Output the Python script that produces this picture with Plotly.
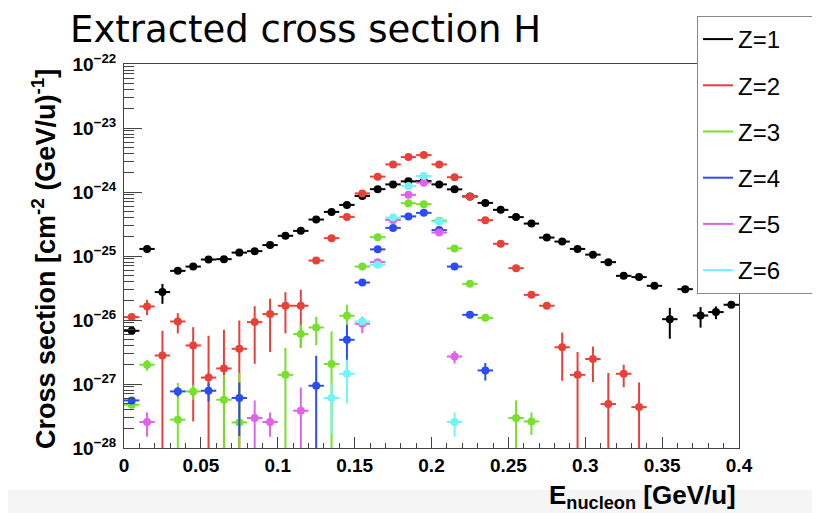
import plotly.graph_objects as go

# ---------------- data ----------------
z1_x = [0.005, 0.015, 0.025, 0.035, 0.045, 0.055, 0.065, 0.075, 0.085, 0.095,
        0.105, 0.115, 0.125, 0.135, 0.145, 0.155, 0.165, 0.175, 0.185, 0.195,
        0.205, 0.215, 0.225, 0.235, 0.245, 0.255, 0.265, 0.275, 0.285, 0.295,
        0.305, 0.315, 0.325, 0.335, 0.345, 0.355, 0.365, 0.375, 0.385, 0.395]
z1_y = [6.78e-27, 1.29e-25, 2.73e-26, 5.86e-26, 6.84e-26, 8.81e-26, 8.93e-26, 1.13e-25, 1.19e-25, 1.48e-25,
        2.07e-25, 2.47e-25, 3.71e-25, 4.89e-25, 6.29e-25, 8.69e-25, 1.107e-24, 1.315e-24, 1.466e-24, 1.48e-24,
        1.315e-24, 1.10e-24, 8.53e-25, 6.76e-25, 5.26e-25, 4.05e-25, 3.21e-25, 1.94e-25, 1.68e-25, 1.29e-25,
        1.05e-25, 8.02e-26, 4.90e-26, 4.68e-26, 3.42e-26, 1.03e-26, 3.03e-26, 1.175e-26, 1.33e-26, 1.73e-26]
z1_err = [0.4e-27, 0.4e-26, 0.94e-26, 0.2e-26, 0.2e-26, 0.2e-26, 0.2e-26, 0.2e-26, 0.2e-26, 0.2e-26,
          0.3e-26, 0.3e-26, 0.3e-26, 0.3e-26, 0.3e-26, 0.3e-26, 0.3e-26, 0.3e-26, 0.3e-26, 0.3e-26,
          0.3e-26, 0.3e-26, 0.3e-26, 0.3e-26, 0.3e-26, 0.3e-26, 0.3e-26, 0.3e-26, 0.3e-26, 0.3e-26,
          0.3e-26, 0.3e-26, 0.2e-26, 0.2e-26, 0.2e-26, 0.52e-26, 0.15e-26, 0.415e-26, 0.30e-26, 0.12e-26]

z2_x = [0.005, 0.015, 0.025, 0.035, 0.045, 0.055, 0.065, 0.075, 0.085, 0.095,
        0.105, 0.115, 0.125, 0.135, 0.145, 0.155, 0.165, 0.175, 0.185, 0.195,
        0.205, 0.215, 0.225, 0.235, 0.245, 0.255, 0.265, 0.275, 0.285, 0.295,
        0.305, 0.315, 0.325, 0.335]
z2_y = [1.11e-26, 1.63e-26, 2.79e-27, 9.48e-27, 4.00e-27, 1.26e-27, 1.75e-27, 3.55e-27, 9.27e-27, 1.236e-26,
        1.67e-26, 1.67e-26, 8.49e-26, 1.90e-25, 4.08e-25, 9.51e-25, 1.738e-24, 2.70e-24, 3.51e-24, 3.77e-24,
        2.70e-24, 1.70e-24, 8.45e-25, 3.63e-25, 1.55e-25, 6.46e-26, 2.47e-26, 1.67e-26, 3.75e-27, 1.39e-27,
        2.46e-27, 4.86e-28, 1.445e-27, 4.36e-28]
z2_err = [0.05e-26, 0.44e-26, 3.99e-27, 3.3e-27, 3.74e-27, 4.4e-27, 5.28e-27, 6.27e-27, 7.2e-27, 9.2e-27,
          1.05e-26, 1.3e-26, 0.3e-26, 0.5e-26, 0.8e-26, 1.5e-26, 2e-26, 3e-26, 3e-26, 3e-26,
          3e-26, 2e-26, 1.2e-26, 0.6e-26, 0.3e-26, 0.15e-26, 0.1e-26, 0.1e-26, 2.63e-27, 1.76e-27,
          1.39e-27, 1.0e-27, 0.555e-27, 6.2e-28]

z3_x = [0.005, 0.015, 0.035, 0.045, 0.065, 0.075, 0.105, 0.115, 0.125, 0.135,
        0.145, 0.155, 0.165, 0.175, 0.185, 0.195, 0.205, 0.215, 0.225, 0.235,
        0.255, 0.265]
z3_y = [4.74e-28, 2.0e-27, 2.77e-28, 7.66e-28, 5.68e-28, 2.51e-28, 1.39e-27, 6.03e-27, 7.64e-27, 2.05e-27,
        1.164e-26, 6.84e-26, 1.97e-25, 3.7e-25, 6.68e-25, 6.46e-25, 3.57e-25, 1.315e-25, 3.67e-26, 1.08e-26,
        2.94e-28, 2.60e-28]
z3_err = [0.3e-28, 0.39e-27, 7.6e-28, 2.07e-28, 8.2e-28, 1.23e-27, 2.25e-27, 2.38e-27, 3.6e-27, 4.55e-27,
          5.6e-27, 0.5e-26, 1e-26, 1.5e-26, 2e-26, 2e-26, 1.5e-26, 0.6e-26, 0.2e-26, 0.08e-26,
          2.6e-28, 1.0e-28]

z4_x = [0.005, 0.035, 0.055, 0.075, 0.125, 0.145, 0.155, 0.165, 0.175, 0.185,
        0.195, 0.205, 0.215, 0.225, 0.235]
z4_y = [5.54e-28, 7.66e-28, 7.85e-28, 6.04e-28, 9.39e-28, 4.91e-27, 3.85e-26, 1.27e-25, 2.75e-25, 4.16e-25,
        4.72e-25, 2.54e-25, 6.84e-26, 1.205e-26, 1.63e-27]
z4_err = [0.3e-28, 1.3e-28, 2.5e-28, 4.5e-28, 1.82e-27, 3.5e-27, 0.3e-26, 0.8e-26, 1.2e-26, 1.5e-26,
          1.5e-26, 1.2e-26, 0.5e-26, 0.12e-26, 0.5e-27]

z5_x = [0.015, 0.085, 0.095, 0.115, 0.155, 0.165, 0.175, 0.185, 0.195, 0.205, 0.215]
z5_y = [2.55e-28, 2.94e-28, 2.55e-28, 3.82e-28, 8.73e-27, 8.02e-26, 3.66e-25, 9.02e-25, 1.40e-24, 2.32e-25,
        2.69e-27]
z5_err = [1.05e-28, 2.6e-28, 1.05e-28, 5.0e-28, 2.5e-27, 0.6e-26, 1.5e-26, 2.5e-26, 3e-26, 1e-26, 0.6e-27]

z6_x = [0.135, 0.145, 0.155, 0.165, 0.175, 0.185, 0.195, 0.205, 0.215]
z6_y = [6.04e-28, 1.445e-27, 9.48e-27, 7.28e-26, 3.98e-25, 1.245e-24, 1.78e-24, 3.45e-25, 2.55e-28]
z6_err = [4.4e-28, 0.95e-27, 0.8e-27, 0.5e-26, 1.5e-26, 3e-26, 3.5e-26, 1.2e-26, 1.05e-28]

bin_half_width = 0.005

series_names = ["Z=1", "Z=2", "Z=3", "Z=4", "Z=5", "Z=6"]
series_x = [z1_x, z2_x, z3_x, z4_x, z5_x, z6_x]
series_y = [z1_y, z2_y, z3_y, z4_y, z5_y, z6_y]
series_err = [z1_err, z2_err, z3_err, z4_err, z5_err, z6_err]
colors = ["#000000", "#e8413a", "#76e02c", "#2a4cf2", "#e061ea", "#72f3f5"]

x_tickvals = [0, 0.05, 0.1, 0.15, 0.2, 0.25, 0.3, 0.35, 0.4]
x_ticktext = ["0", "0.05", "0.1", "0.15", "0.2", "0.25", "0.3", "0.35", "0.4"]
y_exponents = [-28, -27, -26, -25, -24, -23, -22]

# ---------------- layout geometry (page has an 8px body margin) ----------------
W, H = 812, 505
L, R, T, B = 116, 731, 56, 440        # plot area in figure pixels
PW, PH = R - L, B - T


def px(xf):
    return (xf - L) / PW


def py(yf):
    return (B - yf) / PH


# ---------------- figure ----------------
fig = go.Figure()

for name, xs, ys, es, c in zip(series_names, series_x, series_y, series_err, colors):
    fig.add_trace(go.Scatter(
        x=xs, y=ys, mode="markers", name=name, showlegend=False,
        marker=dict(color=c, size=8, symbol="circle", line=dict(width=0)),
        error_y=dict(type="data", array=es, symmetric=True, color=c, thickness=2, width=0),
        error_x=dict(type="constant", value=bin_half_width, color=c, thickness=2, width=0),
    ))

NBSP = "\u00a0"
for i, (name, c) in enumerate(zip(series_names, colors)):
    fig.add_trace(go.Scatter(
        x=[None], y=[None], mode="lines", name=name + NBSP * 4, legendgroup=f"g{i}",
        line=dict(color=c, width=2),
    ))

y_tickvals = [10.0 ** e for e in y_exponents]
y_ticktext = [f"10<sup>\u2212{abs(e)}</sup>" for e in y_exponents]
y_minor = [k * 10.0 ** e for e in y_exponents[:-1] for k in range(2, 10)]

root_font = "Liberation Sans, Arial, Helvetica"

fig.update_xaxes(
    range=[0, 0.4], tickvals=x_tickvals, ticktext=x_ticktext,
    ticks="inside", ticklen=11, tickwidth=1, tickcolor="#444",
    minor=dict(dtick=0.01, tick0=0, ticks="inside", ticklen=5, tickcolor="#444", tickwidth=1),
    showline=True, linecolor="#444", linewidth=1, mirror=True,
    showgrid=False, zeroline=False,
    tickfont=dict(family=root_font, size=19, color="black", weight="bold"),
)
fig.update_yaxes(
    type="log", range=[-28, -22], tickvals=y_tickvals, ticktext=y_ticktext,
    ticks="inside", ticklen=18, tickwidth=1, tickcolor="#444",
    minor=dict(tickvals=y_minor, ticks="inside", ticklen=10, tickcolor="#444", tickwidth=1),
    showline=True, linecolor="#444", linewidth=1, mirror=True,
    showgrid=False, zeroline=False, ticklabelstandoff=3,
    tickfont=dict(family=root_font, size=19, color="black", weight="bold"),
)

fig.update_layout(
    width=W, height=H, autosize=False,
    margin=dict(l=L, r=W - R, t=T, b=H - B, autoexpand=False),
    paper_bgcolor="white", plot_bgcolor="white",
    title=dict(text="Extracted cross section H", x=62 / W, xanchor="left",
               xref="container", y=1 - 21.5 / H, yref="container", yanchor="middle",
               font=dict(family="DejaVu Sans", size=37, color="black")),
    legend=dict(x=px(689), y=py(286), xanchor="left", yanchor="bottom",
                bgcolor="white", bordercolor="#888", borderwidth=1,
                font=dict(family=root_font, size=24, color="black"),
                traceorder="grouped", tracegroupgap=12),
    shapes=[dict(type="rect", xref="paper", yref="paper", x0=px(-8), x1=px(W),
                 y0=py(H), y1=py(482), fillcolor="#f5f5f5",
                 line=dict(width=0), layer="below")],
    annotations=[
        dict(text="<b>Cross section [cm<sup>-2</sup> (GeV/u)<sup>-1</sup>]</b>",
             xref="paper", yref="paper", x=px(36), y=py(251),
             xanchor="center", yanchor="middle", textangle=-90, showarrow=False,
             font=dict(family=root_font, size=27, color="black")),
        dict(text="<b>E<sub>nucleon</sub> [GeV/u]</b>",
             xref="paper", yref="paper", x=px(730), y=py(488),
             xanchor="right", yanchor="middle", showarrow=False,
             font=dict(family=root_font, size=26, color="black")),
    ],
)

fig.write_html("out.html")
